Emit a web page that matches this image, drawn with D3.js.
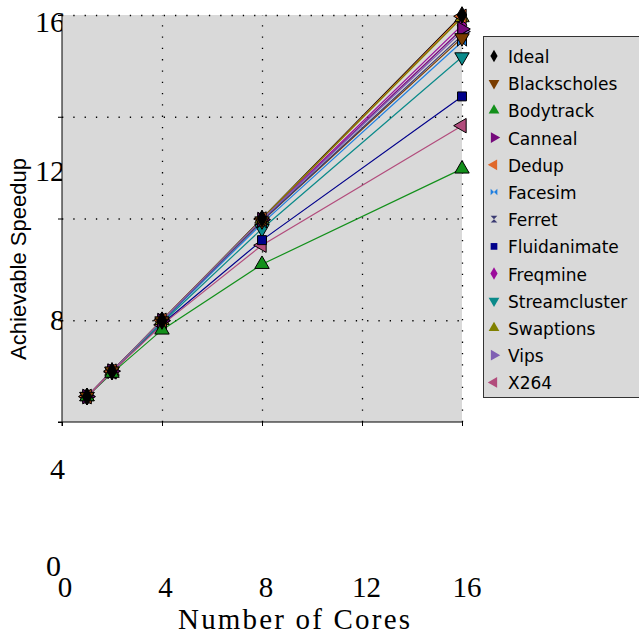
<!DOCTYPE html>
<html>
<head>
<meta charset="utf-8">
<script src="https://cdn.jsdelivr.net/npm/d3@7"></script>
<style>
  body { margin: 0; background: #fff; }
</style>
</head>
<body>
<div id="chart"></div>
<script>
// data
const cores = [1, 2, 4, 8, 16];
const seriesNames = ["Ideal", "Blackscholes", "Bodytrack", "Canneal", "Dedup", "Facesim", "Ferret",
    "Fluidanimate", "Freqmine", "Streamcluster", "Swaptions", "Vips", "X264"];
const ideal         = [1, 2, 4, 8, 16];
const blackscholes  = [1, 2, 3.97, 7.9, 15.1];
const bodytrack     = [1, 1.92, 3.62, 6.2, 9.95];
const canneal       = [1, 2, 3.98, 7.95, 15.45];
const dedup         = [1, 2, 4, 7.98, 15.95];
const facesim       = [1, 1.99, 3.95, 7.8, 14.95];
const ferret        = [1, 2, 3.97, 7.9, 15.2];
const fluidanimate  = [1, 1.98, 3.85, 7.15, 12.8];
const freqmine      = [1, 2, 3.99, 7.97, 15.6];
const streamcluster = [1, 1.98, 3.9, 7.6, 14.35];
const swaptions     = [1, 2, 4, 7.98, 15.9];
const vips          = [1, 2, 3.99, 7.96, 15.35];
const x264          = [1, 1.97, 3.82, 6.95, 11.65];
const seriesValues = [ideal, blackscholes, bodytrack, canneal, dedup, facesim, ferret,
    fluidanimate, freqmine, streamcluster, swaptions, vips, x264];
const plotTicks = [0, 4, 8, 12, 16];
const outerTickLabels = ["0", "4", "8", "12", "16"];

const svgWidth = 639;
const svgHeight = 634;

const colors = ["#000000", "#7a3c00", "#13901b", "#760a7c", "#e0682a", "#1f7fe0", "#3b3b72",
    "#00008b", "#9b0b9b", "#0a8a8a", "#808000", "#8060b4", "#b24c7c"];

// custom marker shapes
const bowtie = {
    draw(ctx, size) {
        const r = Math.sqrt(size) / 2;
        ctx.moveTo(-r, -r); ctx.lineTo(0, 0); ctx.lineTo(-r, r); ctx.closePath();
        ctx.moveTo(r, -r); ctx.lineTo(0, 0); ctx.lineTo(r, r); ctx.closePath();
    }
};
const hourglass = {
    draw(ctx, size) {
        const r = Math.sqrt(size) / 2;
        ctx.moveTo(-r, -r); ctx.lineTo(r, -r); ctx.lineTo(0, 0); ctx.closePath();
        ctx.moveTo(-r, r); ctx.lineTo(r, r); ctx.lineTo(0, 0); ctx.closePath();
    }
};
// [symbol type, rotation]
const markers = [
    [d3.symbolDiamond, 0], [d3.symbolTriangle, 180], [d3.symbolTriangle, 0], [d3.symbolTriangle, 90],
    [d3.symbolTriangle, -90], [bowtie, 0], [hourglass, 0], [d3.symbolSquare, 0],
    [d3.symbolDiamond, 0], [d3.symbolTriangle, 180], [d3.symbolTriangle, 0], [d3.symbolTriangle, 90],
    [d3.symbolTriangle, -90]
];

const series = seriesNames.map((name, i) => ({
    name: name,
    color: colors[i],
    marker: markers[i],
    points: cores.map((c, j) => ({ x: c, y: seriesValues[i][j] }))
}));

const svg = d3.select("#chart")
    .append("svg")
    .attr("width", svgWidth)
    .attr("height", svgHeight)
    .style("font-family", "'Liberation Serif', 'Times New Roman', serif");

// plot-area scales
const x = d3.scaleLinear().domain([0, 16]).range([62, 462]);
const y = d3.scaleLinear().domain([0, 16]).range([422, 15]);

// outer (misplaced) tick label scales
const xOuter = d3.scaleLinear().domain([0, 16]).range([65, 467]);
const yOuter = d3.scaleLinear().domain([0, 4, 16]).range([565, 468, 21]);

// outer y labels drawn first so the plot area covers part of "16"
svg.append("g")
    .selectAll("text")
    .data(plotTicks)
    .enter().append("text")
    .attr("x", d => d === 0 ? 61 : 65)
    .attr("y", d => yOuter(d))
    .attr("dy", "0.35em")
    .attr("text-anchor", "end")
    .style("font-size", "30px")
    .text((d, i) => outerTickLabels[i]);

svg.append("g")
    .selectAll("text")
    .data(plotTicks)
    .enter().append("text")
    .attr("x", d => xOuter(d))
    .attr("y", 597)
    .attr("text-anchor", "middle")
    .style("font-size", "29px")
    .text((d, i) => outerTickLabels[i]);

svg.append("text")
    .attr("x", 294)
    .attr("y", 629)
    .attr("text-anchor", "middle")
    .style("font-size", "29px")
    .attr("textLength", 232)
    .text("Number of Cores");

svg.append("text")
    .attr("transform", "translate(26, 259) rotate(-90)")
    .attr("text-anchor", "middle")
    .style("font-family", "'Liberation Sans', Arial, sans-serif")
    .style("font-size", "22px")
    .text("Achievable Speedup");

// plot background
svg.append("rect")
    .attr("x", x(0))
    .attr("y", y(16))
    .attr("width", x(16) - x(0))
    .attr("height", y(0) - y(16))
    .attr("fill", "#d9d9d9");

// dotted grid
const grid = svg.append("g")
    .attr("stroke", "#000")
    .attr("stroke-width", 1.3)
    .attr("stroke-dasharray", "1.3,10");
grid.selectAll(".gx")
    .data(plotTicks.slice(1))
    .enter().append("line")
    .attr("x1", d => x(d) + 0.5)
    .attr("x2", d => x(d) + 0.5)
    .attr("y1", y(0))
    .attr("y2", y(16));
grid.selectAll(".gy")
    .data(plotTicks.slice(1))
    .enter().append("line")
    .attr("x1", x(0))
    .attr("x2", x(16))
    .attr("y1", d => y(d) + 0.5)
    .attr("y2", d => y(d) + 0.5);

// axes without labels
const xAxis = svg.append("g")
    .attr("transform", `translate(0, ${y(0)})`)
    .call(d3.axisBottom(x).tickValues(plotTicks).tickSize(4).tickFormat(""));
const yAxis = svg.append("g")
    .attr("transform", `translate(${x(0)}, 0)`)
    .call(d3.axisLeft(y).tickValues(plotTicks).tickSize(4).tickFormat(""));
xAxis.select(".domain").attr("d", `M${x(0) - 4},0H${x(16)}`);
yAxis.select(".domain").attr("d", `M0,${y(16)}V${y(0) + 4}`);

// lines
const line = d3.line().x(d => x(d.x)).y(d => y(d.y));
svg.append("g")
    .selectAll("path")
    .data(series)
    .enter().append("path")
    .attr("d", d => line(d.points))
    .attr("fill", "none")
    .attr("stroke", d => d.color)
    .attr("stroke-width", 1.2);

// markers, drawn in reverse so Ideal ends up on top
svg.append("g")
    .selectAll("g")
    .data(series.slice().reverse())
    .enter().append("g")
    .each(function (s) {
        d3.select(this).selectAll("path")
            .data(s.points)
            .enter().append("path")
            .attr("transform", d => `translate(${x(d.x)}, ${y(d.y)}) rotate(${s.marker[1]})`)
            .attr("d", d3.symbol().type(s.marker[0]).size(s.marker[0] === d3.symbolTriangle ? 90 : 80))
            .attr("fill", s.color)
            .attr("stroke", "#000")
            .attr("stroke-width", 1);
    });

// legend
const legend = svg.append("g")
    .attr("transform", "translate(483, 36)");

legend.append("rect")
    .attr("x", 0.5)
    .attr("y", 0.5)
    .attr("width", 170)
    .attr("height", 361)
    .attr("fill", "#d9d9d9")
    .attr("stroke", "#333");

series.forEach((s, i) => {
    const g = legend.append("g")
        .attr("transform", `translate(0, ${21 + i * 27.2})`);

    g.append("path")
        .attr("transform", `translate(11, -1) rotate(${s.marker[1]})`)
        .attr("d", d3.symbol().type(s.marker[0]).size(s.marker[0] === d3.symbolTriangle ? 50 : 45))
        .attr("fill", s.color);

    g.append("text")
        .attr("x", 25)
        .attr("y", 0)
        .attr("dy", "0.35em")
        .style("font-family", "'DejaVu Sans', Verdana, sans-serif")
        .style("font-size", "17px")
        .style("fill", "#000")
        .text(s.name);
});
</script>
</body>
</html>
